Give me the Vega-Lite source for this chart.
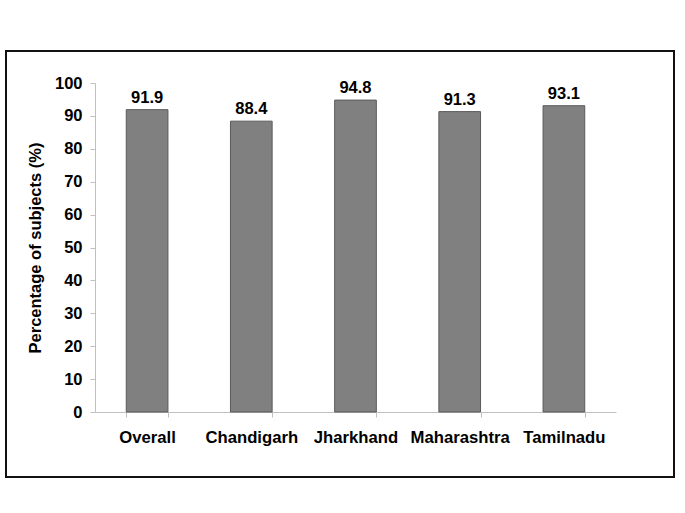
{
  "$schema": "https://vega.github.io/schema/vega-lite/v6.json",
  "autosize": "none",
  "width": 668,
  "height": 426,
  "padding": {"left": 6, "top": 51, "right": 11, "bottom": 36},
  "background": "white",
  "config": {
    "view": {"stroke": "#111111", "strokeWidth": 2},
    "font": "Liberation Sans",
    "axis": {"labelFont": "Liberation Sans", "titleFont": "Liberation Sans"}
  },
  "data": {
    "values": [
      {"region": "Overall", "pct": 91.9},
      {"region": "Chandigarh", "pct": 88.4},
      {"region": "Jharkhand", "pct": 94.8},
      {"region": "Maharashtra", "pct": 91.3},
      {"region": "Tamilnadu", "pct": 93.1}
    ]
  },
  "encoding": {
    "x": {
      "field": "region",
      "type": "nominal",
      "sort": null,
      "scale": {"range": [89, 610], "paddingInner": 0.6, "paddingOuter": 0.3},
      "axis": {
        "title": null,
        "labelAngle": 0,
        "labelFontSize": 16.7,
        "labelFontWeight": "bold",
        "labelColor": "#000000",
        "labelPadding": 12,
        "domainColor": "#c0c0c0",
        "tickColor": "#c0c0c0",
        "tickBand": "extent",
        "tickSize": 5,
        "offset": -65
      }
    },
    "y": {
      "field": "pct",
      "type": "quantitative",
      "scale": {"domain": [0, 100], "range": [361, 32], "nice": false},
      "axis": {
        "title": "Percentage of subjects (%)",
        "titleFontSize": 16.5,
        "titleFontWeight": "bold",
        "titleColor": "#000000",
        "titlePadding": 11,
        "values": [0, 10, 20, 30, 40, 50, 60, 70, 80, 90, 100],
        "labelFontSize": 16.5,
        "labelFontWeight": "bold",
        "labelColor": "#000000",
        "labelPadding": 8,
        "grid": false,
        "domainColor": "#c0c0c0",
        "tickColor": "#c0c0c0",
        "tickSize": 5,
        "offset": -89
      }
    }
  },
  "layer": [
    {
      "mark": {"type": "bar", "color": "#808080", "stroke": "#5a5a5a", "strokeWidth": 1}
    },
    {
      "mark": {"type": "text", "dy": -12, "fontSize": 16.5, "fontWeight": "bold", "color": "#000000"},
      "encoding": {"text": {"field": "pct", "type": "quantitative", "format": ".1f"}}
    }
  ]
}
